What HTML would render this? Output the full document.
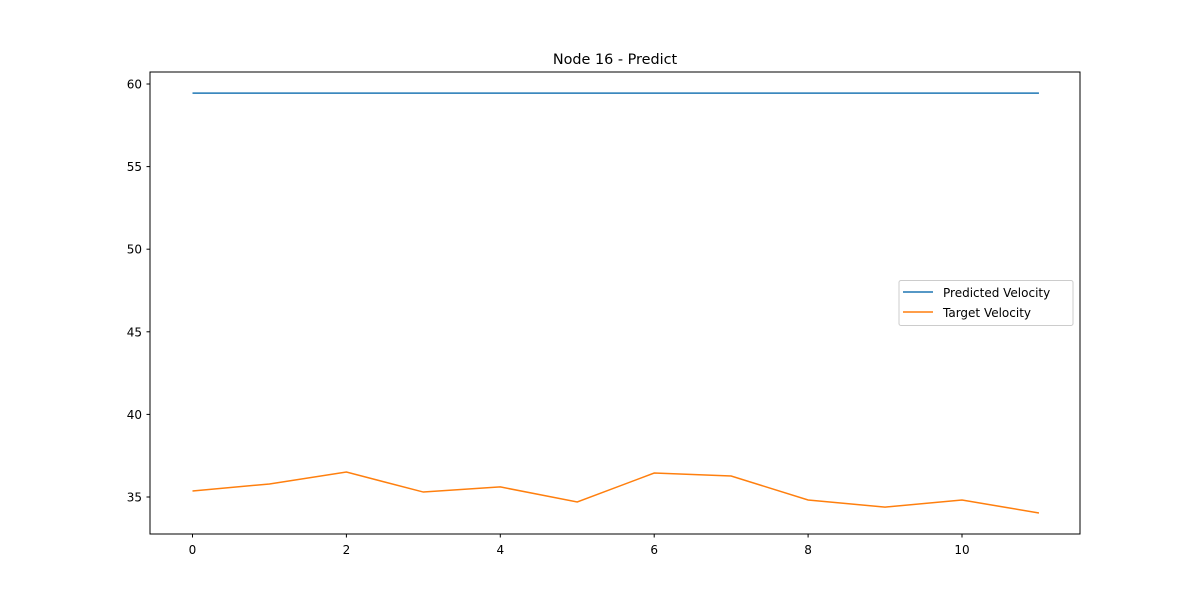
<!DOCTYPE html>
<html><head><meta charset="utf-8"><style>
body{margin:0;background:#fff}
svg{font-family:"DejaVu Sans","Liberation Sans",sans-serif}
</style></head><body>
<svg id="chart" width="1200" height="600">
<rect width="1200" height="600" fill="#fff"/>
<text x="615" y="64" font-size="14.4" text-anchor="middle">Node 16 - Predict</text>
<g id="plot"></g>
<rect x="150" y="72" width="930" height="462" fill="none" stroke="#000" stroke-width="1"/>
<g>
<rect x="899" y="280.5" width="174" height="45" rx="2" fill="#fff" stroke="#ccc"/>
<line x1="903" y1="292" x2="933" y2="292" stroke="#1f77b4" stroke-width="1.5"/>
<text x="943" y="297" font-size="12">Predicted Velocity</text>
<line x1="903" y1="312" x2="933" y2="312" stroke="#ff7f0e" stroke-width="1.5"/>
<text x="943" y="317" font-size="12">Target Velocity</text>
</g>
</svg>
<script>
const xValues=[0,1,2,3,4,5,6,7,8,9,10,11];
const predicted=[59.45,59.45,59.45,59.45,59.45,59.45,59.45,59.45,59.45,59.45,59.45,59.45];
const target=[35.36,35.79,36.51,35.30,35.61,34.70,36.45,36.27,34.82,34.39,34.82,34.03];
const xTicks=[0,2,4,6,8,10];
const yTicks=[35,40,45,50,55,60];
const NS="http://www.w3.org/2000/svg";
const g=document.getElementById('plot');
const xs=v=>192.5+(v-0)*76.95;
const ys=v=>497-(v-35)*16.52;
function mk(t,a){const e=document.createElementNS(NS,t);for(const k in a)e.setAttribute(k,a[k]);g.appendChild(e);return e;}
xTicks.forEach(t=>{
 const l=mk('line',{x1:xs(t),x2:xs(t),y1:534,y2:537.5,stroke:'#000'});
 
 
 const tx=mk('text',{x:xs(t),y:554,'font-size':12,'text-anchor':'middle'});tx.textContent=t;
 
 
});
yTicks.forEach(t=>{
 const l=mk('line',{x1:146.5,x2:150,y1:ys(t),y2:ys(t),stroke:'#000'});
 
 
 const tx=mk('text',{x:142,y:ys(t)+4.5,'font-size':12,'text-anchor':'end'});tx.textContent=t;
 
 
});
function line(arr,color,name){
 const p=mk('polyline',{points:arr.map((v,i)=>xs(xValues[i])+','+ys(v)).join(' '),fill:'none',stroke:color,'stroke-width':1.5});
 
 
}
line(predicted,'#1f77b4','predicted-velocity-line');
line(target,'#ff7f0e','target-velocity-line');
</script>
</body></html>
